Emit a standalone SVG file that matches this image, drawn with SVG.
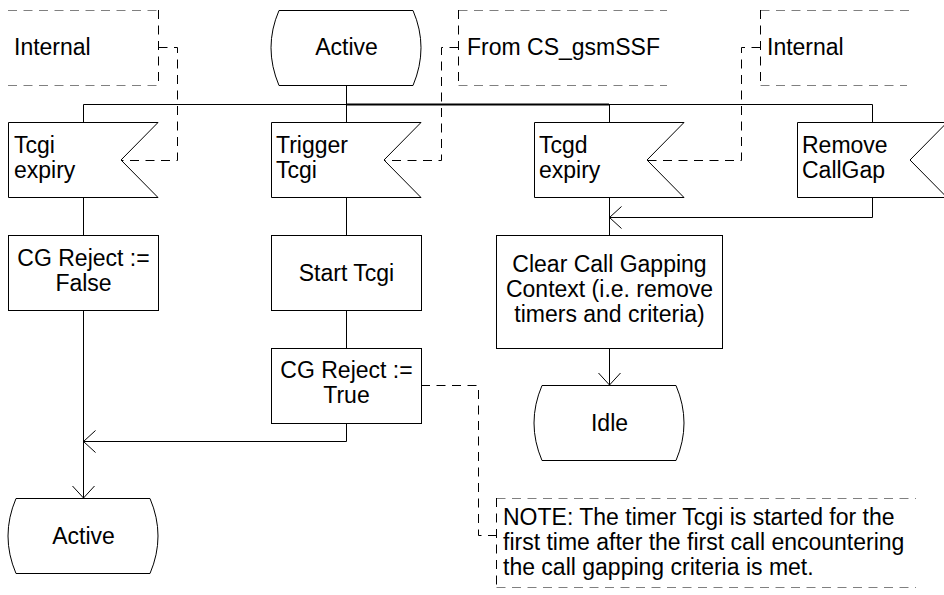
<svg xmlns="http://www.w3.org/2000/svg" width="944" height="595" viewBox="0 0 944 595">
<style>
.s{fill:#fff;stroke:#000;stroke-width:1}
.t{font-family:"Liberation Sans",Arial,sans-serif;font-size:23px;fill:#000}
.c{text-anchor:middle}
.ln{fill:none;stroke:#000;stroke-width:1}
.dh{fill:none;stroke:#808080;stroke-width:1;stroke-dasharray:9,6.5}
.dv{fill:none;stroke:#000;stroke-width:1;stroke-dasharray:9,6.5}
</style>
<defs>
<marker id="arr" viewBox="0 0 12 24" refX="12" refY="12" markerWidth="12" markerHeight="24" markerUnits="userSpaceOnUse" orient="auto">
<path d="M0,1 L12,12 L0,23" fill="none" stroke="#000" stroke-width="1"/>
</marker>
</defs>
<rect width="944" height="595" fill="#fff"/>

<g id="connectors">
<line class="ln" x1="346.5" y1="85" x2="346.5" y2="104.5"/>
<line class="ln" x1="83.5" y1="104.5" x2="872.5" y2="104.5" stroke="#555"/>
<line x1="346" y1="104.5" x2="609" y2="104.5" stroke="#000" stroke-width="2"/>
<line class="ln" x1="83.5" y1="104.5" x2="83.5" y2="122"/>
<line class="ln" x1="346.5" y1="104.5" x2="346.5" y2="122"/>
<line class="ln" x1="609.5" y1="104.5" x2="609.5" y2="122"/>
<line class="ln" x1="872.5" y1="104.5" x2="872.5" y2="122"/>
<line class="ln" x1="83.5" y1="197" x2="83.5" y2="235"/>
<line class="ln" x1="346.5" y1="197" x2="346.5" y2="235"/>
<line class="ln" x1="346.5" y1="310" x2="346.5" y2="348"/>
<line class="ln" x1="609.5" y1="197" x2="609.5" y2="235"/>
<polyline class="ln" points="872.5,197 872.5,217.5 609.5,217.5" marker-end="url(#arr)"/>
<line class="ln" x1="609.5" y1="348" x2="609.5" y2="385" marker-end="url(#arr)"/>
<polyline class="ln" points="346.5,423 346.5,441.5 83.5,441.5" marker-end="url(#arr)"/>
<line class="ln" x1="83.5" y1="310" x2="83.5" y2="498" marker-end="url(#arr)"/>
<polyline class="dv" points="158.5,47.5 177.5,47.5 177.5,160.5 121,160.5"/>
<polyline class="dv" points="458.5,47.5 441.5,47.5 441.5,160.5 384,160.5"/>
<polyline class="dv" points="760.5,47.5 741.5,47.5 741.5,160.5 647,160.5"/>
<polyline class="dv" points="421,385.5 478.5,385.5 478.5,535.5 496.5,535.5"/>
</g>

<g id="comment-internal-left">
<line class="dh" x1="8" y1="10.5" x2="158.5" y2="10.5"/>
<line class="dh" x1="8" y1="85.5" x2="158.5" y2="85.5"/>
<line class="dv" x1="158.5" y1="10" x2="158.5" y2="85"/>
<text class="t" x="14" y="55">Internal</text>
</g>

<g id="comment-from-cs">
<line class="dh" x1="458.5" y1="10.5" x2="667" y2="10.5"/>
<line class="dh" x1="458.5" y1="85.5" x2="667" y2="85.5"/>
<line class="dv" x1="458.5" y1="10" x2="458.5" y2="85"/>
<text class="t" x="467" y="55">From CS_gsmSSF</text>
</g>

<g id="comment-internal-right">
<line class="dh" x1="760.5" y1="10.5" x2="910" y2="10.5"/>
<line class="dh" x1="760.5" y1="85.5" x2="907" y2="85.5"/>
<line class="dv" x1="760.5" y1="10" x2="760.5" y2="85"/>
<text class="t" x="767" y="55">Internal</text>
</g>

<g id="state-active-top">
<path class="s" d="M279,10.5 L413,10.5 Q429,47.5 413,85.5 L279,85.5 Q263,47.5 279,10.5 Z"/>
<text class="t c" x="346.5" y="55">Active</text>
</g>

<g id="input-tcgi-expiry">
<path class="s" d="M8.5,122.5 L158,122.5 L121,160 L158,197.5 L8.5,197.5 Z"/>
<text class="t" x="14" y="153">Tcgi</text>
<text class="t" x="14" y="178">expiry</text>
</g>

<g id="input-trigger-tcgi">
<path class="s" d="M271.5,122.5 L421,122.5 L384,160 L421,197.5 L271.5,197.5 Z"/>
<text class="t" x="276" y="153">Trigger</text>
<text class="t" x="276" y="178">Tcgi</text>
</g>

<g id="input-tcgd-expiry">
<path class="s" d="M534.5,122.5 L684,122.5 L647,160 L684,197.5 L534.5,197.5 Z"/>
<text class="t" x="539" y="153">Tcgd</text>
<text class="t" x="539" y="178">expiry</text>
</g>

<g id="input-remove-callgap">
<path class="s" d="M797.5,122.5 L947,122.5 L910,160 L947,197.5 L797.5,197.5 Z"/>
<text class="t" x="802" y="153">Remove</text>
<text class="t" x="802" y="178">CallGap</text>
</g>

<g id="task-cg-false">
<rect class="s" x="8.5" y="235.5" width="150" height="75"/>
<text class="t c" x="83.5" y="266">CG Reject :=</text>
<text class="t c" x="83.5" y="291">False</text>
</g>

<g id="task-start-tcgi">
<rect class="s" x="271.5" y="235.5" width="150" height="75"/>
<text class="t c" x="346.5" y="281">Start Tcgi</text>
</g>

<g id="task-cg-true">
<rect class="s" x="271.5" y="348.5" width="150" height="75"/>
<text class="t c" x="346.5" y="378">CG Reject :=</text>
<text class="t c" x="346.5" y="403">True</text>
</g>

<g id="task-clear">
<rect class="s" x="496.5" y="235.5" width="226" height="113"/>
<text class="t c" x="609.5" y="272">Clear Call Gapping</text>
<text class="t c" x="609.5" y="297">Context (i.e. remove</text>
<text class="t c" x="609.5" y="322">timers and criteria)</text>
</g>

<g id="state-idle">
<path class="s" d="M542,385.5 L676,385.5 Q692,423 676,460.5 L542,460.5 Q526,423 542,385.5 Z"/>
<text class="t c" x="609.5" y="431">Idle</text>
</g>

<g id="state-active-bottom">
<path class="s" d="M16,498.5 L150,498.5 Q166,536 150,573.5 L16,573.5 Q0,536 16,498.5 Z"/>
<text class="t c" x="83.5" y="544">Active</text>
</g>

<g id="note">
<line class="dh" x1="496.5" y1="498.5" x2="916" y2="498.5"/>
<line class="dh" x1="496.5" y1="587.5" x2="916" y2="587.5"/>
<line class="dv" x1="496.5" y1="498" x2="496.5" y2="587"/>
<text class="t" x="503" y="525">NOTE: The timer Tcgi is started for the</text>
<text class="t" x="503" y="550">first time after the first call encountering</text>
<text class="t" x="503" y="575">the call gapping criteria is met.</text>
</g>
</svg>
